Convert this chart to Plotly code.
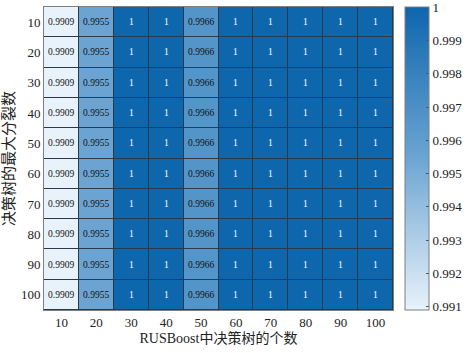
import plotly.graph_objects as go

num_trees = [10, 20, 30, 40, 50, 60, 70, 80, 90, 100]
max_splits = [10, 20, 30, 40, 50, 60, 70, 80, 90, 100]
col_values = [0.9909, 0.9955, 1, 1, 0.9966, 1, 1, 1, 1, 1]
cbar_ticks = [0.991, 0.992, 0.993, 0.994, 0.995, 0.996, 0.997, 0.998, 0.999, 1]
cbar_labels = ["0.991", "0.992", "0.993", "0.994", "0.995", "0.996", "0.997", "0.998", "0.999", "1"]

z = [list(col_values) for _ in max_splits]
xl = [str(v) for v in num_trees]
yl = [str(v) for v in max_splits]

def fmt(v):
    return "1" if v == 1 else f"{v:.4f}"

serif = "Liberation Serif, Times New Roman, serif"
cjk = "Liberation Serif, Noto Sans CJK SC, serif"

fig = go.Figure(go.Heatmap(
    z=z, x=xl, y=yl,
    zmin=0.9909, zmax=1.00001,
    colorscale=[[0, "#e8f2fa"], [0.5, "#6ca5d3"], [1, "#0e66ad"]],
    xgap=1, ygap=1,
    colorbar=dict(
        x=1.034, xanchor="left", xpad=0, y=0.5, yanchor="middle", ypad=0,
        len=1, lenmode="fraction", thickness=24, thicknessmode="pixels",
        outlinecolor="#7f7f7f", outlinewidth=1,
        tickmode="array", tickvals=cbar_ticks, ticktext=cbar_labels,
        ticks="inside", ticklen=3, tickcolor="#555555",
        ticklabeloverflow="allow",
        tickfont=dict(family=serif, size=13, color="#222222"),
    ),
    hoverinfo="skip",
))

anns = []
for yi in range(len(yl)):
    for xi in range(len(xl)):
        v = z[yi][xi]
        anns.append(dict(x=xi, y=yi, xref="x", yref="y", text=fmt(v), showarrow=False,
                         font=dict(family=serif, size=9.5,
                                   color="#ffffff" if v > 0.998 else "#111111")))
fig.update_layout(annotations=anns)

fig.update_layout(
    width=472, height=353,
    margin=dict(l=44, r=79, t=7, b=43, autoexpand=False),
    paper_bgcolor="#ffffff", plot_bgcolor="#2a3a4a",
    xaxis=dict(type="category", automargin=False,
               title=dict(text="RUSBoost中决策树的个数", font=dict(family=cjk, size=14, color="#222222"), standoff=2),
               tickfont=dict(family=serif, size=13, color="#222222"),
               showline=True, mirror=True, linecolor="#7f7f7f", linewidth=1,
               ticks="", showgrid=False, zeroline=False),
    yaxis=dict(type="category", automargin=False,
               title=dict(text="决策树的最大分裂数", font=dict(family=cjk, size=15, color="#222222"), standoff=2),
               tickfont=dict(family=serif, size=13, color="#222222"),
               autorange="reversed",
               showline=True, mirror=True, linecolor="#7f7f7f", linewidth=1,
               ticks="", showgrid=False, zeroline=False),
)

fig.write_html("out.html", config={"displayModeBar": False},
               post_script="document.body.style.margin='0';document.body.style.overflow='hidden';")
